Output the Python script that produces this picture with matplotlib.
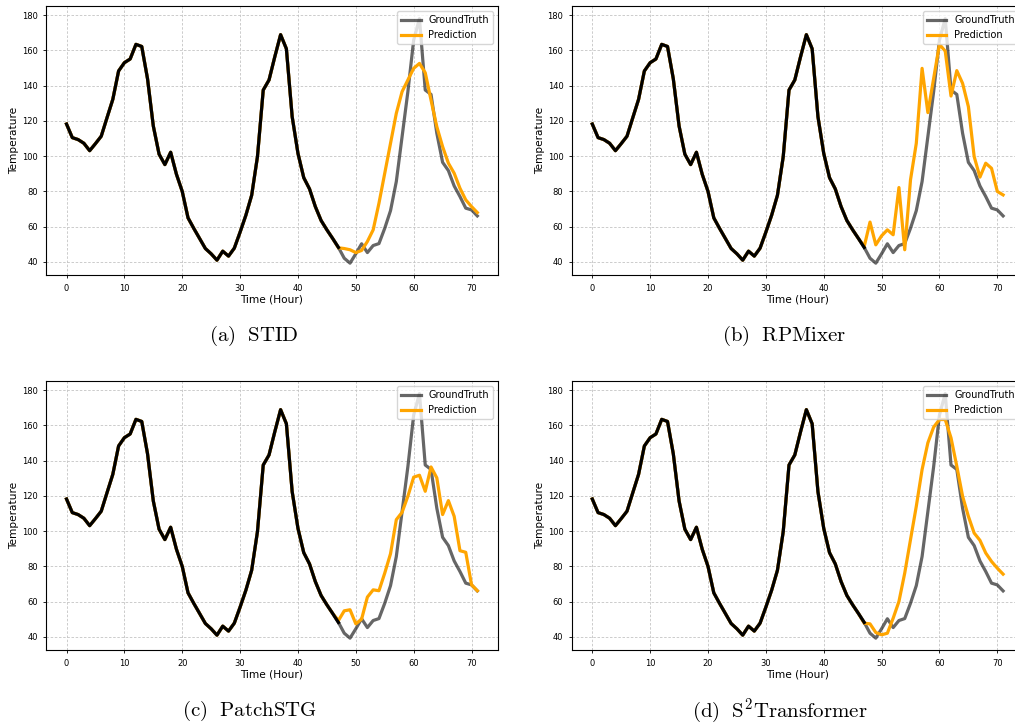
import matplotlib.pyplot as plt

plt.rcParams['mathtext.fontset'] = 'cm'

hours = list(range(72))
hist_end = 47  # last observed hour, forecast starts here

ground_truth = [118.2, 110.5, 109.4, 107.3, 103.1, 107.1, 111.3, 121.8, 132.2, 148.3,
                153.0, 155.1, 163.4, 162.2, 143.9, 117.1, 101.1, 95.2, 102.2, 89.7,
                80.0, 65.0, 59.0, 53.3, 47.6, 44.6, 41.0, 46.1, 43.3, 47.8,
                56.9, 66.5, 77.8, 99.7, 137.5, 143.2, 156.4, 168.9, 160.9, 122.4,
                101.6, 87.8, 81.4, 71.4, 63.5, 58.2, 53.3, 48.2, 42.1, 39.3,
                44.6, 50.3, 45.3, 49.3, 50.4, 59.1, 69.1, 85.6, 111.1, 136.6,
                165.8, 178.0, 137.5, 135.0, 113.0, 96.5, 91.8, 83.1, 77.1, 70.5,
                69.5, 66.1]

# predictions for hours 47..71
pred_stid = [48.0, 47.6, 46.9, 45.3, 46.5, 51.6, 58.2, 73.3, 90.3, 107.3,
             124.3, 136.6, 143.2, 149.8, 152.6, 147.3, 131.8, 116.7, 105.4, 96.0,
             90.3, 81.8, 75.2, 71.4, 68.0]
pred_rpmixer = [48.8, 62.6, 49.7, 54.8, 58.2, 55.4, 82.2, 46.9, 86.6, 107.3,
                149.8, 124.7, 144.1, 163.4, 159.6, 134.1, 148.5, 141.3, 128.1, 99.8,
                88.1, 96.0, 93.1, 80.0, 78.0]
pred_patchstg = [49.3, 54.8, 55.4, 47.4, 50.1, 62.6, 66.7, 66.2, 76.2, 87.2,
                 106.5, 110.7, 119.8, 130.6, 131.7, 122.6, 136.4, 130.2, 109.4, 117.3,
                 108.4, 88.9, 88.0, 69.6, 66.2]
pred_s2t = [47.8, 47.4, 42.5, 41.2, 42.1, 50.6, 60.1, 76.2, 95.2, 114.1,
            134.9, 150.1, 159.0, 163.3, 163.3, 152.9, 136.8, 119.8, 108.4, 98.9,
            94.8, 87.6, 82.8, 79.0, 75.6]

captions = [r'$\mathrm{(a)\ \ STID}$', r'$\mathrm{(b)\ \ RPMixer}$',
            r'$\mathrm{(c)\ \ PatchSTG}$', r'$\mathrm{(d)\ \ S^2Transformer}$']

fig = plt.figure(figsize=(10.15, 7.27), dpi=100)

ax_w, ax_h = 0.4452, 0.370
panels = [
    (0.0453, 0.6212, pred_stid, captions[0], 0.250, 0.5378),
    (0.5633, 0.6212, pred_rpmixer, captions[1], 0.772, 0.5378),
    (0.0453, 0.1054, pred_patchstg, captions[2], 0.246, 0.022),
    (0.5633, 0.1054, pred_s2t, captions[3], 0.768, 0.022),
]

for left, bottom, pred, cap, cx, cy in panels:
    ax = fig.add_axes([left, bottom, ax_w, ax_h])
    hist = ground_truth[:hist_end + 1]
    ax.plot(hours, ground_truth, color='black', alpha=0.6, lw=2.3, label='GroundTruth')
    ax.plot(hours, hist[:-1] + pred, color='orange', lw=2.3, label='Prediction')
    ax.plot(hours[:hist_end + 1], hist, color='black', lw=2.3)
    ax.set_yticks(range(40, 181, 20))
    ax.set_xticks(range(0, 71, 10))
    ax.tick_params(labelsize=6, length=2.5, width=0.6)
    ax.set_xlabel('Time (Hour)', fontsize=7.6, labelpad=1)
    ax.set_ylabel('Temperature', fontsize=7.6, labelpad=2)
    ax.grid(True, linestyle=(0, (3, 2)), color='#c4c4c4', lw=0.6)
    for s in ax.spines.values():
        s.set_linewidth(0.8)
    ax.legend(loc='upper right', fontsize=7, borderpad=0.4, handlelength=2.0)
    fig.text(cx, cy, cap, fontsize=15, ha='center', va='center')

fig.savefig('out.png', dpi=100)
